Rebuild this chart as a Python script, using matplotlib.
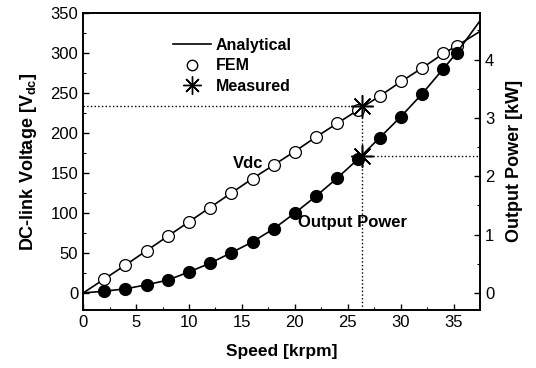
import numpy as np
import matplotlib
matplotlib.use("Agg")
import matplotlib.pyplot as plt
from matplotlib.lines import Line2D

plt.rcParams['font.family'] = ['Liberation Sans', 'DejaVu Sans']
plt.rcParams['mathtext.fontset'] = 'custom'
plt.rcParams['mathtext.rm'] = 'Liberation Sans'
plt.rcParams['mathtext.bf'] = 'Liberation Sans:bold'

# FEM points
speed_fem = [2, 4, 6, 8, 10, 12, 14, 16, 18, 20, 22, 24, 26, 28, 30, 32, 34, 35.3]
vdc_fem = [17.5, 35, 52, 71, 89, 106, 125, 143, 160, 176, 195, 212, 229, 246, 265, 281, 300, 309]
pow_fem = [0.03, 0.07, 0.14, 0.22, 0.36, 0.51, 0.69, 0.875, 1.10, 1.37, 1.66, 1.97, 2.30,
           2.66, 3.02, 3.41, 3.84, 4.12]

# analytical curves
speed_an = [0, 2, 4, 6, 8, 10, 12, 14, 16, 18, 20, 22, 24, 26, 28, 30, 32, 34, 35.3, 37.5]
vdc_an = [0, 17.5, 35, 53, 71, 89, 107, 125, 143, 160, 177, 195, 212, 229, 246, 264, 281, 299, 309, 327]
pow_an = [0, 0.03, 0.07, 0.14, 0.22, 0.36, 0.51, 0.69, 0.875, 1.10, 1.37, 1.66, 1.97, 2.30,
          2.66, 3.02, 3.41, 3.84, 4.12, 4.67]

# measured point
speed_meas = 26.3
vdc_meas = 234
pow_meas = 2.35

fig = plt.figure(figsize=(5.36, 3.68), dpi=100)
ax = fig.add_axes([0.155, 0.158, 0.741, 0.807])
ax2 = ax.twinx()

ax.plot(speed_an, vdc_an, color='black', lw=1.2, zorder=3)
ax.plot(speed_fem, vdc_fem, 'o', mfc='white', mec='black', ms=8.5, mew=0.9, zorder=4)
ax.plot([speed_meas], [vdc_meas], marker=(8, 2, 0), color='black', ms=16, mew=1.1, zorder=5)

ax2.plot(speed_an, pow_an, color='black', lw=1.2, zorder=3)
ax2.plot(speed_fem, pow_fem, 'o', color='black', ms=8.5, zorder=4)
ax2.plot([speed_meas], [pow_meas], marker=(8, 2, 0), color='black', ms=16, mew=1.1, zorder=5)

# dotted guide lines
ax.plot([0, speed_meas], [vdc_meas, vdc_meas], ':', color='black', lw=1)
ax.plot([speed_meas, speed_meas], [-21, vdc_meas], ':', color='black', lw=1)
ax2.plot([speed_meas, 37.5], [pow_meas, pow_meas], ':', color='black', lw=1)

ax.set_xlim(0, 37.5)
ax.set_ylim(-21, 350)
ax2.set_ylim(-0.29, 4.8)

ax.set_xticks(np.arange(0, 36, 5))
ax.set_xticks(np.arange(0, 37.5, 2.5), minor=True)
ax.set_yticks(np.arange(0, 351, 50))
ax.set_yticks(np.arange(0, 351, 25), minor=True)
ax2.set_yticks([0, 1, 2, 3, 4])
ax2.set_yticks(np.arange(0, 4.8, 0.5), minor=True)

for a in (ax, ax2):
    a.tick_params(direction='in', which='major', length=4, width=1, labelsize=12)
    a.tick_params(direction='in', which='minor', length=2.5, width=0.8)
    for s in a.spines.values():
        s.set_linewidth(1.2)

ax.set_xlabel('Speed [krpm]', fontsize=12.5, fontweight='bold', labelpad=10)
ax.set_ylabel(r'DC-link Voltage [V$_{\mathbf{dc}}$]', fontsize=13, fontweight='bold', labelpad=8)
ax2.set_ylabel('Output Power [kW]', fontsize=13, fontweight='bold', labelpad=8)

ax.text(15.6, 162, 'Vdc', fontsize=12, fontweight='bold', ha='center', va='center')
ax.text(20.3, 88, 'Output Power', fontsize=12, fontweight='bold', ha='left', va='center')

handles = [Line2D([], [], color='black', lw=1.2),
           Line2D([], [], ls='', marker='o', mfc='white', mec='black', ms=7.5),
           Line2D([], [], ls='', marker=(8, 2, 0), color='black', ms=13, mew=1)]
leg = ax.legend(handles, ['Analytical', 'FEM', 'Measured'], loc='upper left',
                bbox_to_anchor=(0.19, 0.965), frameon=False, handlelength=2.4,
                handletextpad=0.3, labelspacing=0.35, prop={'weight': 'bold', 'size': 11.5})

fig.savefig('out.png', dpi=100)
